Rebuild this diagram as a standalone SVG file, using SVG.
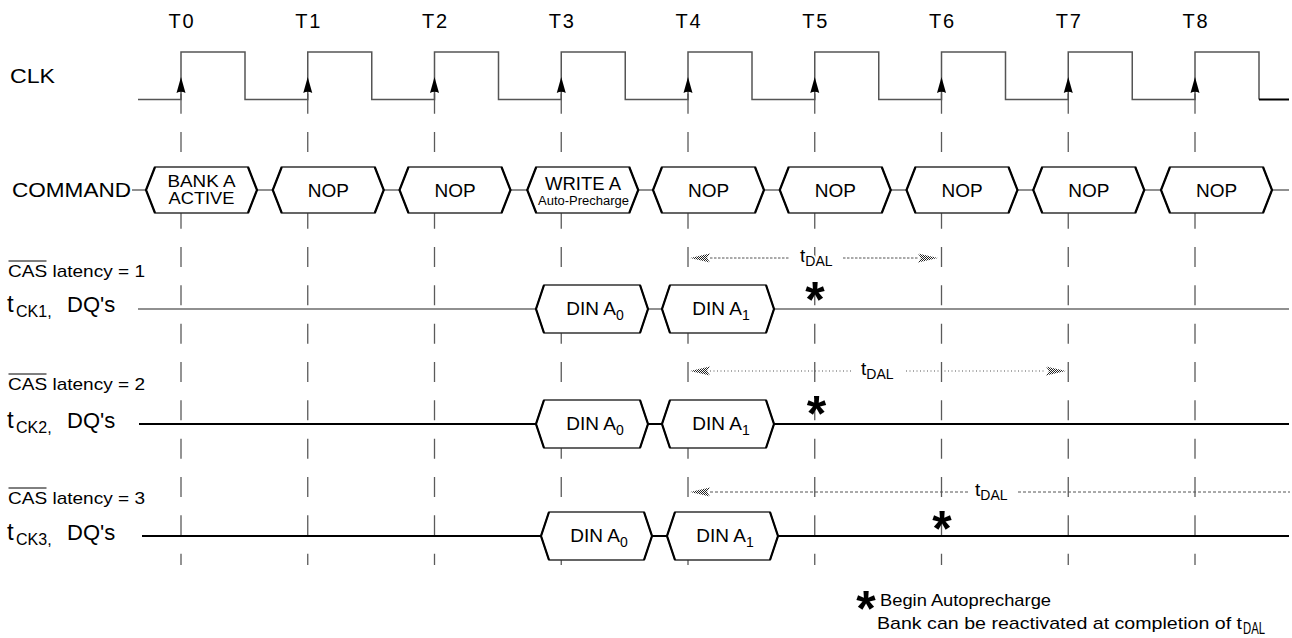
<svg xmlns="http://www.w3.org/2000/svg" xmlns:xlink="http://www.w3.org/1999/xlink" width="1292" height="638" viewBox="0 0 1292 638">
<style>
.t{font-family:"Liberation Sans",Arial,Helvetica,sans-serif;fill:#000}
.lbl{font-size:20px}
.cmd{font-size:19px;text-anchor:middle}
.din{font-size:19px;text-anchor:middle}
.sub{font-size:14px}
.cas{font-size:17px}
.tck{font-size:22px}
.tdal{font-size:19px}
.tdal .s{font-size:14px}
.halo{stroke:#fff;stroke-width:4;paint-order:stroke}
.leg{font-size:17px}
.star{font-family:"Liberation Sans",Arial,sans-serif;font-weight:bold;font-size:50px;text-anchor:middle;fill:#000}
.grid{stroke:#5a5a5a;stroke-width:1.3;stroke-dasharray:20 18.33;fill:none}
.clk{stroke:#555;stroke-width:1.5;fill:none}
.sig{stroke:#000;stroke-width:2;fill:none}
.sig1{stroke:#6b6b6b;stroke-width:1.6;fill:none}
.hex{fill:#fff;stroke:#333;stroke-width:1.3}
.side{fill:none;stroke:#000;stroke-width:2.2}
.d1{stroke:#555;stroke-width:1;stroke-dasharray:2.5 1.5;fill:none}
.d2{stroke:#555;stroke-width:1.1;stroke-dasharray:1 2.5;fill:none}
.d3{stroke:#555;stroke-width:1;stroke-dasharray:3 2;fill:none}
.ah{fill:url(#stip)}
</style>
<defs>
<pattern id="stip" width="2" height="2" patternUnits="userSpaceOnUse"><rect width="1" height="1" fill="#222"/><rect x="1" y="1" width="1" height="1" fill="#222"/></pattern>
<path id="ca" d="M0,0 L-4.5,16 Q0,13.5 4.5,16 Z" fill="#000"/>
<path id="ahL" d="M0,0 L20,-4.5 L17,0 L20,4.5 Z"/>
<path id="ahR" d="M0,0 L-20,-4.5 L-17,0 L-20,4.5 Z"/>
</defs>
<rect width="1292" height="638" fill="#fff"/>

<g id="grid">
<line class="grid" x1="181" y1="93.67" x2="181" y2="565"/>
<line class="grid" x1="307.75" y1="93.67" x2="307.75" y2="565"/>
<line class="grid" x1="434.5" y1="93.67" x2="434.5" y2="565"/>
<line class="grid" x1="561.25" y1="93.67" x2="561.25" y2="565"/>
<line class="grid" x1="688" y1="93.67" x2="688" y2="565"/>
<line class="grid" x1="814.75" y1="93.67" x2="814.75" y2="565"/>
<line class="grid" x1="941.5" y1="93.67" x2="941.5" y2="565"/>
<line class="grid" x1="1068.25" y1="93.67" x2="1068.25" y2="565"/>
<line class="grid" x1="1195" y1="93.67" x2="1195" y2="565"/>
</g>

<g id="clock">
<path class="clk" d="M138,99.5 H181 V52 H245 V99.5 H307.75 V52 H371.75 V99.5 H434.5 V52 H498.5 V99.5 H561.25 V52 H625.25 V99.5 H688 V52 H752 V99.5 H814.75 V52 H878.75 V99.5 H941.5 V52 H1005.5 V99.5 H1068.25 V52 H1132.25 V99.5 H1195 V52 H1259 V99.5"/>
<path d="M1259,99.5 H1289" stroke="#000" stroke-width="2"/>
<use xlink:href="#ca" x="181" y="77"/>
<use xlink:href="#ca" x="307.75" y="77"/>
<use xlink:href="#ca" x="434.5" y="77"/>
<use xlink:href="#ca" x="561.25" y="77"/>
<use xlink:href="#ca" x="688" y="77"/>
<use xlink:href="#ca" x="814.75" y="77"/>
<use xlink:href="#ca" x="941.5" y="77"/>
<use xlink:href="#ca" x="1068.25" y="77"/>
<use xlink:href="#ca" x="1195" y="77"/>
</g>

<g id="labels" class="t">
<text class="lbl" x="181" y="28" text-anchor="middle" textLength="25">T0</text>
<text class="lbl" x="307.75" y="28" text-anchor="middle" textLength="25">T1</text>
<text class="lbl" x="434.5" y="28" text-anchor="middle" textLength="25">T2</text>
<text class="lbl" x="561.25" y="28" text-anchor="middle" textLength="25">T3</text>
<text class="lbl" x="688" y="28" text-anchor="middle" textLength="25">T4</text>
<text class="lbl" x="814.75" y="28" text-anchor="middle" textLength="25">T5</text>
<text class="lbl" x="941.5" y="28" text-anchor="middle" textLength="25">T6</text>
<text class="lbl" x="1068.25" y="28" text-anchor="middle" textLength="25">T7</text>
<text class="lbl" x="1195" y="28" text-anchor="middle" textLength="25">T8</text>
<text class="lbl" x="10" y="83" textLength="45" lengthAdjust="spacingAndGlyphs">CLK</text>
<text class="lbl" x="12" y="197" font-size="21" textLength="119" lengthAdjust="spacingAndGlyphs">COMMAND</text>
<text class="cas" x="8" y="277" textLength="137" lengthAdjust="spacingAndGlyphs">CAS latency = 1</text>
<line x1="8.5" y1="261" x2="46.5" y2="261" stroke="#000" stroke-width="1"/>
<text class="tck" y="312"><tspan x="7" font-size="24">t</tspan><tspan x="16" dy="5" font-size="16">CK1,</tspan><tspan x="67" dy="-5">DQ's</tspan></text>
<text class="cas" x="8" y="390" textLength="137" lengthAdjust="spacingAndGlyphs">CAS latency = 2</text>
<line x1="8.5" y1="374" x2="46.5" y2="374" stroke="#000" stroke-width="1"/>
<text class="tck" y="428"><tspan x="7" font-size="24">t</tspan><tspan x="16" dy="5" font-size="16">CK2,</tspan><tspan x="67" dy="-5">DQ's</tspan></text>
<text class="cas" x="8" y="504" textLength="137" lengthAdjust="spacingAndGlyphs">CAS latency = 3</text>
<line x1="8.5" y1="488" x2="46.5" y2="488" stroke="#000" stroke-width="1"/>
<text class="tck" y="540"><tspan x="7" font-size="24">t</tspan><tspan x="16" dy="5" font-size="16">CK3,</tspan><tspan x="67" dy="-5">DQ's</tspan></text>
</g>

<g id="connectors">
<path class="sig1" d="M132,190 H1289"/>
<path class="sig1" d="M138,309 H1289"/>
<path class="sig" d="M139,424 H1289"/>
<path class="sig" d="M142,536 H1289"/>
<g id="tdal1">
<use class="ah" xlink:href="#ahL" x="690" y="258"/>
<path class="d1" d="M710,258 H790 M843,258 H918"/>
<use class="ah" xlink:href="#ahR" x="938" y="258"/>
</g>
<g id="tdal2">
<use class="ah" xlink:href="#ahL" x="690" y="371"/>
<path class="d2" d="M710,371 H853 M906,371 H1046"/>
<use class="ah" xlink:href="#ahR" x="1066" y="371"/>
</g>
<g id="tdal3">
<use class="ah" xlink:href="#ahL" x="690" y="492"/>
<path class="d3" d="M710,492 H968 M1018,492 H1290"/>
</g>
</g>

<g id="cmd0"><path class="hex" d="M146,190 L155,167 H248 L257,190 L248,213 H155 Z"/><path class="side" d="M155,167 L146,190 L155,213 M248,167 L257,190 L248,213"/>
<text class="t" font-size="17" text-anchor="middle" x="201.5" y="187" textLength="68" lengthAdjust="spacingAndGlyphs">BANK A</text>
<text class="t" font-size="17" text-anchor="middle" x="201.5" y="204" textLength="66" lengthAdjust="spacingAndGlyphs">ACTIVE</text></g>
<g id="cmd1"><path class="hex" d="M272.75,190 L281.75,167 H374.75 L383.75,190 L374.75,213 H281.75 Z"/><path class="side" d="M281.75,167 L272.75,190 L281.75,213 M374.75,167 L383.75,190 L374.75,213"/><text class="t cmd" x="328.25" y="197">NOP</text></g>
<g id="cmd2"><path class="hex" d="M399.5,190 L408.5,167 H501.5 L510.5,190 L501.5,213 H408.5 Z"/><path class="side" d="M408.5,167 L399.5,190 L408.5,213 M501.5,167 L510.5,190 L501.5,213"/><text class="t cmd" x="455" y="197">NOP</text></g>
<g id="cmd3"><path class="hex" d="M527.25,190 L536.25,167 H629.25 L638.25,190 L629.25,213 H536.25 Z"/><path class="side" d="M536.25,167 L527.25,190 L536.25,213 M629.25,167 L638.25,190 L629.25,213"/>
<text class="t" font-size="17.5" text-anchor="middle" x="583" y="190" textLength="76" lengthAdjust="spacingAndGlyphs">WRITE A</text>
<text class="t" font-size="12.5" text-anchor="middle" x="583.5" y="205" textLength="91" lengthAdjust="spacingAndGlyphs">Auto-Precharge</text></g>
<g id="cmd4"><path class="hex" d="M653,190 L662,167 H755 L764,190 L755,213 H662 Z"/><path class="side" d="M662,167 L653,190 L662,213 M755,167 L764,190 L755,213"/><text class="t cmd" x="708.5" y="197">NOP</text></g>
<g id="cmd5"><path class="hex" d="M779.75,190 L788.75,167 H881.75 L890.75,190 L881.75,213 H788.75 Z"/><path class="side" d="M788.75,167 L779.75,190 L788.75,213 M881.75,167 L890.75,190 L881.75,213"/><text class="t cmd" x="835.25" y="197">NOP</text></g>
<g id="cmd6"><path class="hex" d="M906.5,190 L915.5,167 H1008.5 L1017.5,190 L1008.5,213 H915.5 Z"/><path class="side" d="M915.5,167 L906.5,190 L915.5,213 M1008.5,167 L1017.5,190 L1008.5,213"/><text class="t cmd" x="962" y="197">NOP</text></g>
<g id="cmd7"><path class="hex" d="M1033.25,190 L1042.25,167 H1135.25 L1144.25,190 L1135.25,213 H1042.25 Z"/><path class="side" d="M1042.25,167 L1033.25,190 L1042.25,213 M1135.25,167 L1144.25,190 L1135.25,213"/><text class="t cmd" x="1088.75" y="197">NOP</text></g>
<g id="cmd8"><path class="hex" d="M1161,190 L1170,167 H1263 L1272,190 L1263,213 H1170 Z"/><path class="side" d="M1170,167 L1161,190 L1170,213 M1263,167 L1272,190 L1263,213"/><text class="t cmd" x="1216.5" y="197">NOP</text></g>

<g id="dq1a0"><path class="hex" d="M536,309 L544,285 H640 L648,309 L640,333 H544 Z"/><path class="side" d="M544,285 L536,309 L544,333 M640,285 L648,309 L640,333"/><text class="t din" x="595" y="315">DIN A<tspan class="sub" dy="5">0</tspan></text></g>
<g id="dq1a1"><path class="hex" d="M662,309 L670,285 H766 L774,309 L766,333 H670 Z"/><path class="side" d="M670,285 L662,309 L670,333 M766,285 L774,309 L766,333"/><text class="t din" x="721" y="315">DIN A<tspan class="sub" dy="5">1</tspan></text></g>
<g id="dq2a0"><path class="hex" d="M536,424 L544,400 H640 L648,424 L640,448 H544 Z"/><path class="side" d="M544,400 L536,424 L544,448 M640,400 L648,424 L640,448"/><text class="t din" x="595" y="430">DIN A<tspan class="sub" dy="5">0</tspan></text></g>
<g id="dq2a1"><path class="hex" d="M662,424 L670,400 H766 L774,424 L766,448 H670 Z"/><path class="side" d="M670,400 L662,424 L670,448 M766,400 L774,424 L766,448"/><text class="t din" x="721" y="430">DIN A<tspan class="sub" dy="5">1</tspan></text></g>
<g id="dq3a0"><path class="hex" d="M541,536 L549,512 H644 L652,536 L644,560 H549 Z"/><path class="side" d="M549,512 L541,536 L549,560 M644,512 L652,536 L644,560"/><text class="t din" x="599" y="542">DIN A<tspan class="sub" dy="5">0</tspan></text></g>
<g id="dq3a1"><path class="hex" d="M667,536 L675,512 H770 L778,536 L770,560 H675 Z"/><path class="side" d="M675,512 L667,536 L675,560 M770,512 L778,536 L770,560"/><text class="t din" x="725" y="542">DIN A<tspan class="sub" dy="5">1</tspan></text></g>

<g id="tdal-labels" class="t">
<text class="tdal halo" x="800" y="262">t<tspan class="s" dy="4">DAL</tspan></text>
<text class="tdal" x="861" y="375">t<tspan class="s" dy="4">DAL</tspan></text>
<text class="tdal" x="975" y="496">t<tspan class="s" dy="4">DAL</tspan></text>
</g>

<g id="stars">
<text class="star" x="815" y="317">*</text>
<text class="star" x="816.5" y="431">*</text>
<text class="star" x="942" y="546">*</text>
</g>

<g id="legend" class="t">
<text class="star" x="866" y="626">*</text>
<text class="leg" x="880" y="606" textLength="171" lengthAdjust="spacingAndGlyphs">Begin Autoprecharge</text>
<text class="leg" x="877" y="629" textLength="365" lengthAdjust="spacingAndGlyphs">Bank can be reactivated at completion of t</text>
<text class="leg" x="1243" y="634" font-size="14" textLength="22" lengthAdjust="spacingAndGlyphs">DAL</text>
</g>
</svg>
